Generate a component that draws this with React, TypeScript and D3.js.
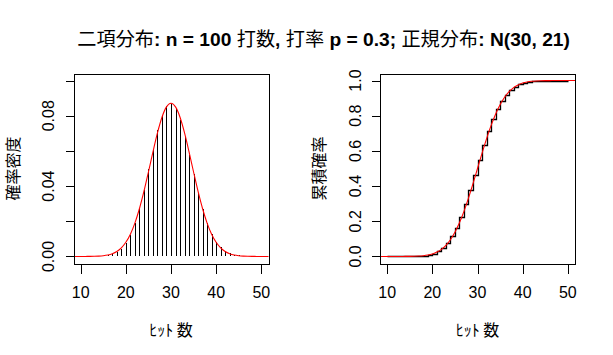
import React from "react";
import * as d3 from "d3";

// ---- data ----
const hits: number[] = [10,11,12,13,14,15,16,17,18,19,20,21,22,23,24,25,26,27,28,29,30,31,32,33,34,35,36,37,38,39,40,41,42,43,44,45,46,47,48,49,50];
const binomPmf: number[] = [0.0000012,0.0000041,0.0000131,0.0000379,0.000101,0.000248,0.000564,0.00119,0.00236,0.00437,0.00758,0.01237,0.01904,0.02767,0.03804,0.04956,0.06127,0.07197,0.08041,0.08556,0.08678,0.08398,0.07761,0.06854,0.05788,0.04678,0.03620,0.02683,0.01907,0.01299,0.00849,0.00533,0.00321,0.00185,0.00103,0.00055,0.000282,0.000139,0.0000657,0.0000299,0.0000131];
const binomCdf: number[] = [0.0000012,0.0000053,0.0000184,0.0000563,0.000157,0.000405,0.000969,0.00216,0.00452,0.00889,0.01647,0.02884,0.04788,0.07555,0.11359,0.16315,0.22442,0.29639,0.37680,0.46236,0.54914,0.63312,0.71073,0.77927,0.83715,0.88393,0.92013,0.94696,0.96603,0.97902,0.98751,0.99284,0.99605,0.99790,0.99893,0.99948,0.99976,0.99990,0.99997,1.0,1.0];
const normX: number[] = [8,9,10,11,12,13,14,15,16,17,18,19,20,21,22,23,24,25,26,27,28,29,30,31,32,33,34,35,36,37,38,39,40,41,42,43,44,45,46,47,48,49,50,51,52];
const normPdf: number[] = [0.0000008,0.000002,0.0000064,0.0000161,0.0000389,0.0000894,0.000196,0.000410,0.000819,0.001557,0.002823,0.00488,0.00805,0.01266,0.01897,0.02711,0.03694,0.04801,0.05948,0.07026,0.07915,0.08501,0.08706,0.08501,0.07915,0.07026,0.05948,0.04801,0.03694,0.02711,0.01897,0.01266,0.00805,0.00488,0.002823,0.001557,0.000819,0.000410,0.000196,0.0000894,0.0000389,0.0000161,0.0000064,0.000002,0.0000008];
const normCdf: number[] = [0.0,0.000001,0.000004,0.00001,0.00004,0.00010,0.00024,0.00053,0.00113,0.00228,0.00441,0.00819,0.01455,0.02477,0.04043,0.06331,0.09521,0.13762,0.19137,0.25634,0.33126,0.41363,0.5,0.58637,0.66874,0.74366,0.80863,0.86238,0.90479,0.93669,0.95957,0.97523,0.98545,0.99181,0.99559,0.99772,0.99887,0.99947,0.99976,0.99990,0.99996,0.99999,1.0,1.0,1.0];
const xTicks: number[] = [10, 20, 30, 40, 50];
const pdfTicks: number[] = [0, 0.02, 0.04, 0.06, 0.08, 0.10];
const pdfLabels: string[] = ["0.00", "", "0.04", "", "0.08", ""];
const cdfTicks: number[] = [0, 0.2, 0.4, 0.6, 0.8, 1.0];
const cdfLabels: string[] = ["0.0", "0.2", "0.4", "0.6", "0.8", "1.0"];
// title pieces: [text, bold]
const titleParts: [string, boolean][] = [
  ["二項分布", false],
  [": n = 100 ", true],
  ["打数", false],
  [", ", true],
  ["打率", false],
  [" p = 0.3; ", true],
  ["正規分布", false],
  [": N(30, 21)", true],
];

const W = 613, H = 355;
const LATIN = "'Liberation Sans', Arial, sans-serif";
const CJK = "'Noto Sans CJK JP', 'Noto Sans', sans-serif";
const TOP = 73.5, BOTTOM = 263.5;

function Panel({ left, kind }: { left: number; kind: "pdf" | "cdf" }) {
  const right = left + 195;
  const x = d3.scaleLinear().domain([8.4, 51.6]).range([left, right]);
  const y = kind === "pdf"
    ? d3.scaleLinear().domain([-0.004, 0.104]).range([BOTTOM, TOP])
    : d3.scaleLinear().domain([-0.04, 1.04]).range([BOTTOM, TOP]);
  const ticks = kind === "pdf" ? pdfTicks : cdfTicks;
  const labels = kind === "pdf" ? pdfLabels : cdfLabels;
  const clipId = "clip-" + kind;
  const redLine = d3.line<number>()
    .x((_, i) => x(normX[i]))
    .y((d) => y(d))
    .curve(d3.curveMonotoneX);
  const stepLine = d3.line<number>()
    .x((_, i) => Math.round(x(hits[i])) + 0.5)
    .y((d) => Math.round(y(d)) + 0.5)
    .curve(d3.curveStepAfter);
  const r = (v: number) => Math.round(v) + 0.5;
  const ylabel = kind === "pdf" ? "確率密度" : "累積確率";
  return (
    <g>
      <defs>
        <clipPath id={clipId}>
          <rect x={left} y={TOP} width={right - left} height={BOTTOM - TOP} />
        </clipPath>
      </defs>
      <g clipPath={`url(#${clipId})`}>
        {kind === "pdf" ? (
          hits.map((h, i) => (
            <line key={h} x1={r(x(h))} x2={r(x(h))} y1={y(0)} y2={y(binomPmf[i])}
              stroke="#000" strokeWidth={1} shapeRendering="crispEdges" />
          ))
        ) : (
          <path d={stepLine(binomCdf) || ""} fill="none" stroke="#000" strokeWidth={1.3} />
        )}
        <path d={redLine(kind === "pdf" ? normPdf : normCdf) || ""} fill="none" stroke="#ff0000" strokeWidth={1.1} />
      </g>
      <rect x={r(left)} y={r(TOP)} width={Math.round(right - left)} height={Math.round(BOTTOM - TOP)}
        fill="none" stroke="#000" strokeWidth={1} shapeRendering="crispEdges" />
      {xTicks.map((t) => (
        <g key={t}>
          <line x1={r(x(t))} x2={r(x(t))} y1={r(BOTTOM)} y2={r(BOTTOM) + 9} stroke="#000" shapeRendering="crispEdges" />
          <text x={x(t)} y={297.5} textAnchor="middle" fontFamily={LATIN} fontSize={16} fill="#000">{t}</text>
        </g>
      ))}
      {ticks.map((t, i) => (
        <g key={t}>
          <line x1={r(left) - 9} x2={r(left)} y1={r(y(t))} y2={r(y(t))} stroke="#000" shapeRendering="crispEdges" />
          {labels[i] && (
            <text transform={`translate(${left - 25},${y(t)}) rotate(-90)`} textAnchor="middle"
              dominantBaseline="central" fontFamily={LATIN} fontSize={16} fill="#000">{labels[i]}</text>
          )}
        </g>
      ))}
      <text x={(left + right) / 2} y={329} textAnchor="middle" dominantBaseline="central"
        fontFamily={CJK} fontSize={16} fill="#000">ﾋｯﾄ 数</text>
      <text transform={`translate(${left - (kind === "pdf" ? 61.5 : 61.7)},${(TOP + BOTTOM) / 2}) rotate(-90)`}
        textAnchor="middle" dominantBaseline="central" fontFamily={CJK} fontSize={16} fill="#000">{ylabel}</text>
    </g>
  );
}

export default function App() {
  return (
    <svg width={W} height={H} viewBox={`0 0 ${W} ${H}`}
      style={{ position: "absolute", left: 0, top: 0, background: "#fff" }}>
      <rect x={0} y={0} width={W} height={H} fill="#fff" />
      <text x={77.3} y={46} fontSize={19.2} fill="#000" fontFamily={CJK} style={{ whiteSpace: "pre" }}>
        {titleParts.map(([s, b], i) => (
          <tspan key={i} fontFamily={b ? LATIN : CJK} fontWeight={b ? "bold" : "normal"}>{s}</tspan>
        ))}
      </text>
      <Panel left={73.5} kind="pdf" />
      <Panel left={380} kind="cdf" />
    </svg>
  );
}
